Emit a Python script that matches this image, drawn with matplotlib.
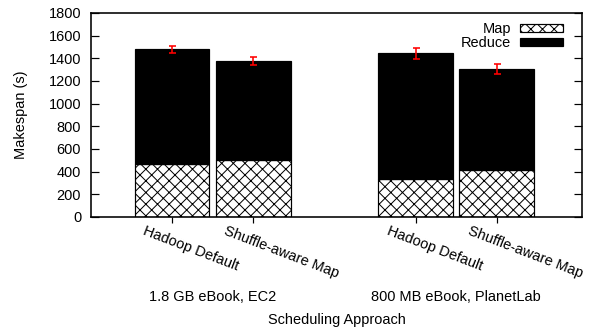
import matplotlib
matplotlib.use("Agg")
import matplotlib.pyplot as plt
from matplotlib.transforms import ScaledTranslation, blended_transform_factory

# data
approaches = ["Hadoop Default", "Shuffle-aware Map", "Hadoop Default", "Shuffle-aware Map"]
positions = [0, 1, 3, 4]
groups = ["1.8 GB eBook, EC2", "800 MB eBook, PlanetLab"]
group_pos = [0.5, 3.5]
map_time = [465, 506, 338, 418]
total_time = [1480, 1380, 1445, 1303]
reduce_time = [t - m for t, m in zip(total_time, map_time)]
err_center = [1477, 1377, 1441, 1305]
err = [32, 32, 50, 43]

DPI = 70
def pt(px):
    return px * 72.0 / DPI

plt.rcParams['font.family'] = ['Liberation Sans', 'DejaVu Sans']
plt.rcParams['hatch.linewidth'] = pt(1.0)

fig = plt.figure(figsize=(602 / DPI, 334 / DPI), dpi=DPI)
ax = fig.add_axes([91 / 602, 1 - 217 / 334, 491 / 602, 204 / 334])

fs = pt(14.5)
w = 0.92
ax.bar(positions, map_time, w, color='white', edgecolor='black', hatch='xx',
       linewidth=pt(1.2), label='Map')
ax.bar(positions, reduce_time, w, bottom=map_time, color='black',
       edgecolor='black', linewidth=pt(1.2), label='Reduce')
ax.errorbar(positions, err_center, yerr=err, fmt='none', ecolor='red',
            elinewidth=pt(1.6), capsize=pt(3.5), capthick=pt(1.6))

ax.set_xlim(-1.0, 5.05)
ax.set_ylim(0, 1800)
ax.set_yticks(range(0, 1801, 200))
ax.tick_params(axis='y', direction='in', length=pt(8), width=pt(1.2),
               labelsize=fs, pad=pt(10), right=True)
ax.tick_params(axis='x', direction='out', length=pt(6), width=pt(1.2),
               labelsize=fs, pad=pt(1))
for s in ax.spines.values():
    s.set_linewidth(pt(1.6))

ax.set_xticks(positions)
labels = ax.set_xticklabels(approaches, rotation=-21, ha='left', va='top',
                            rotation_mode='anchor')
off = ScaledTranslation(-26 / DPI, 0, fig.dpi_scale_trans)
for lb in labels:
    lb.set_transform(lb.get_transform() + off)

trans = blended_transform_factory(ax.transData, ax.transAxes)
for g, p in zip(groups, group_pos):
    ax.text(p, -0.392, g, transform=trans, ha='center', va='center', fontsize=fs)
ax.text(0.5, -0.505, "Scheduling Approach", transform=ax.transAxes,
        ha='center', va='center', fontsize=fs)
fig.text(21 / 602, 1 - 115 / 334, "Makespan (s)", rotation=90,
         ha='center', va='center', fontsize=fs)

ax.legend(loc='upper right', frameon=False, markerfirst=False, fontsize=fs,
          handlelength=3.0, handleheight=0.5, labelspacing=0.0,
          handletextpad=0.6, borderaxespad=0.0,
          bbox_to_anchor=(1 - 13 / 491, 1 - 3 / 204))

fig.savefig("out.png", dpi=DPI)
